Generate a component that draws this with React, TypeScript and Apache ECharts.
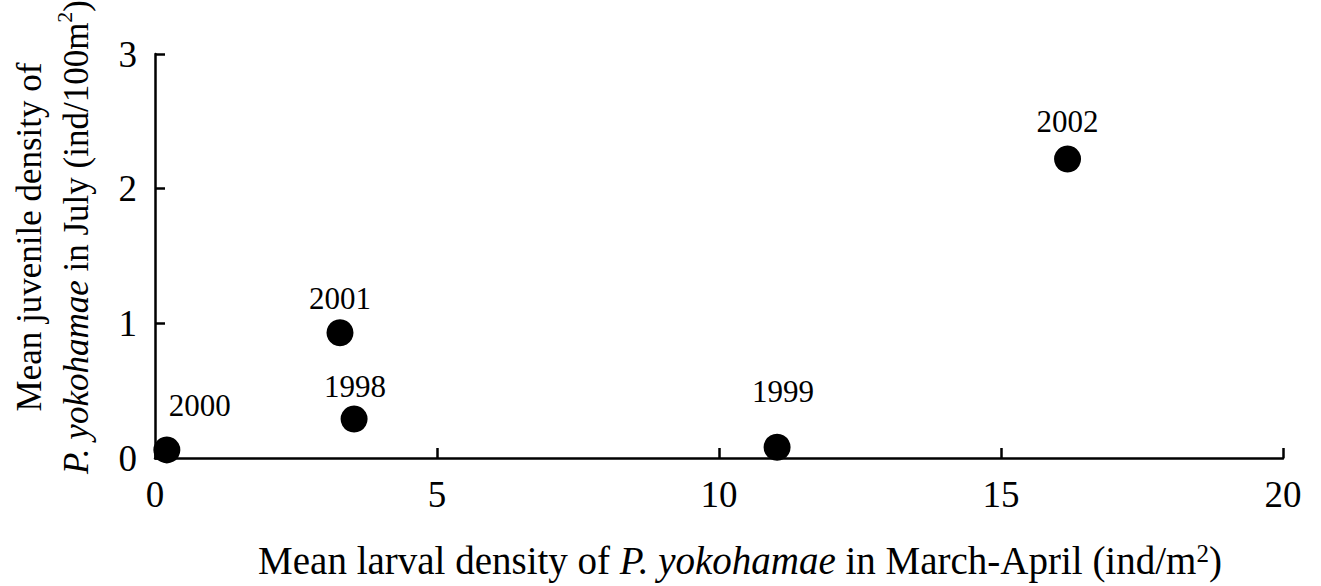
import React, { useEffect, useRef } from "react";
import * as echarts from "echarts";

const years = ["2000", "1998", "2001", "1999", "2002"];
const larvalDensity = [0.21, 3.53, 3.28, 11.03, 16.18];
const juvenileDensity = [0.06, 0.29, 0.93, 0.08, 2.22];
const xTicks = [0, 5, 10, 15, 20];
const yTicks = [0, 1, 2, 3];

// label placement relative to the marker centre, keyed by year
const labelOffsets: Record<string, [number, number]> = {
  "2000": [33, -44],
  "1998": [1, -32],
  "2001": [0, -34],
  "1999": [6, -56],
  "2002": [0, -38],
};

const FONT = "'Liberation Serif', 'Times New Roman', serif";

export default function App() {
  const ref = useRef<HTMLDivElement>(null);
  useEffect(() => {
    if (!ref.current) return;
    const chart = echarts.init(ref.current, undefined, { renderer: "svg" });
    const data = years.map((y, i) => ({
      value: [larvalDensity[i], juvenileDensity[i]],
      name: y,
      label: { offset: labelOffsets[y] },
    }));
    const axisCommon = {
      axisLine: { show: true, lineStyle: { color: "#000", width: 2.5 } },
      axisTick: { show: true, inside: true, length: 10, lineStyle: { color: "#000", width: 2.5 } },
      splitLine: { show: false },
    };
    chart.setOption({
      animation: false,
      backgroundColor: "#fff",
      grid: { left: 155, right: 38, top: 54, bottom: 128, containLabel: false },
      xAxis: {
        type: "value",
        min: xTicks[0],
        max: xTicks[xTicks.length - 1],
        interval: 5,
        ...axisCommon,
        axisLabel: { color: "#000", fontFamily: FONT, fontSize: 37, margin: 18 },
      },
      yAxis: {
        type: "value",
        min: yTicks[0],
        max: yTicks[yTicks.length - 1],
        interval: 1,
        ...axisCommon,
        axisLabel: { color: "#000", fontFamily: FONT, fontSize: 37, margin: 18 },
      },
      series: [
        {
          type: "scatter",
          symbol: "circle",
          symbolSize: 27,
          itemStyle: { color: "#000", opacity: 1 },
          data,
          label: {
            show: true,
            position: "inside",
            formatter: (p: any) => p.name,
            color: "#000",
            opacity: 1,
            fontFamily: FONT,
            fontSize: 31,
          },
        },
      ],
      graphic: [
        {
          type: "text",
          x: 740,
          y: 560,
          style: {
            text: "{n|Mean larval density of }{i|P. yokohamae}{n| in March-April (ind/m}{s|2}{n|)}",
            textAlign: "center",
            textVerticalAlign: "middle",
            fill: "#000",
            rich: {
              n: { fontFamily: FONT, fontSize: 39, fill: "#000" },
              i: { fontFamily: FONT, fontSize: 39, fontStyle: "italic", fill: "#000" },
              s: { fontFamily: FONT, fontSize: 25, fill: "#000", verticalAlign: "top" },
            },
          },
        },
        {
          type: "text",
          x: 53,
          y: 237,
          rotation: Math.PI / 2,
          style: {
            text:
              "{n|Mean juvenile density of}\n{i|P. yokohamae}{n| in July (ind/100m}{s|2}{n|)}",
            textAlign: "center",
            textVerticalAlign: "middle",
            fill: "#000",
            rich: {
              n: { fontFamily: FONT, fontSize: 35, lineHeight: 47, fill: "#000" },
              i: { fontFamily: FONT, fontSize: 35, lineHeight: 47, fontStyle: "italic", fill: "#000" },
              s: { fontFamily: FONT, fontSize: 22, lineHeight: 47, fill: "#000", verticalAlign: "top" },
            },
          },
        },
      ],
    });
    return () => chart.dispose();
  }, []);
  return (
    <div
      ref={ref}
      style={{ position: "absolute", left: 0, top: 0, width: 1321, height: 586 }}
    />
  );
}
